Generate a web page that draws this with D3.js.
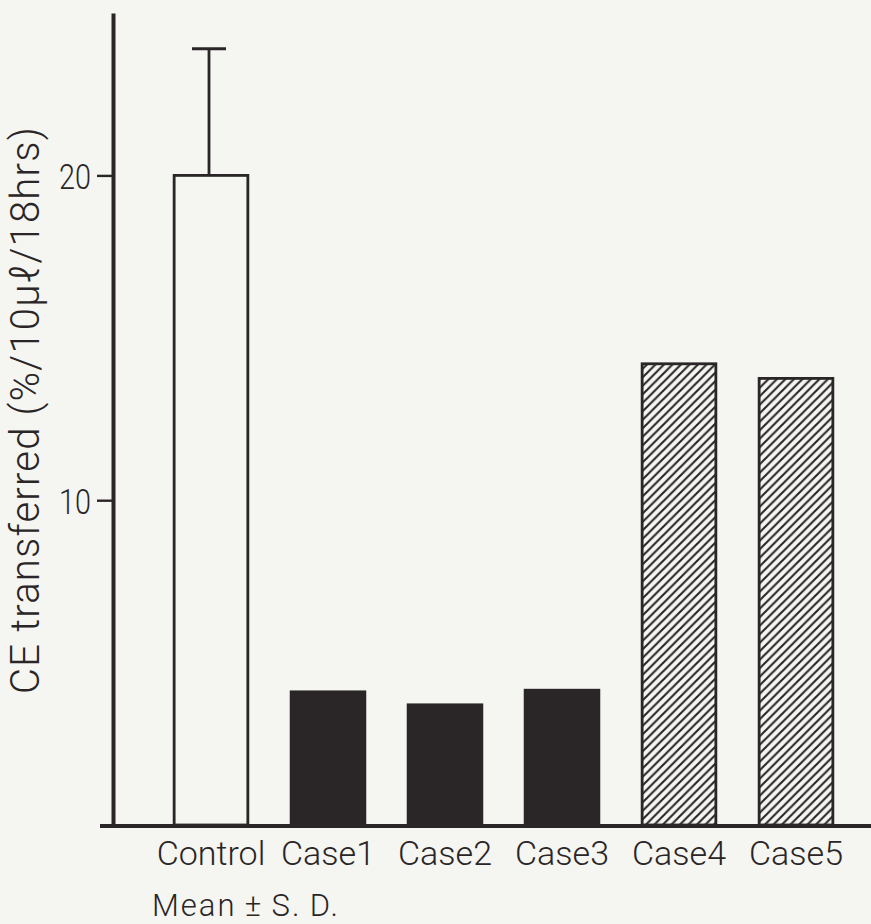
<!DOCTYPE html>
<html>
<head>
<meta charset="utf-8">
<script src="https://cdn.jsdelivr.net/npm/d3@7"></script>
<style>
  body { margin: 0; background: #f5f5f2; }
  svg { display: block; }
  text { fill: #2a2526; font-family: Roboto, 'DejaVu Sans', sans-serif; font-weight: 300; }
</style>
</head>
<body>
<div id="app"></div>
<script>
// data
const categories = ["Control", "Case1", "Case2", "Case3", "Case4", "Case5"];
const values = [20, 4.1, 3.7, 4.15, 14.2, 13.75];
const errors = [3.9, 0, 0, 0, 0, 0];
const groups = ["control", "low", "low", "low", "high", "high"];
const yTicks = [10, 20];

const W = 871, H = 924;
const ink = "#2a2526";

const svg = d3.select("#app").append("svg")
  .attr("width", W)
  .attr("height", H);

const defs = svg.append("defs");
defs.append("pattern")
  .attr("id", "hatch")
  .attr("patternUnits", "userSpaceOnUse")
  .attr("width", 8.5)
  .attr("height", 8.5)
  .append("path")
  .attr("d", "M-2,2 L2,-2 M0,8.5 L8.5,0 M6.5,10.5 L10.5,6.5")
  .attr("stroke", ink)
  .attr("stroke-width", 2.1);

const y = d3.scaleLinear().domain([0, 25]).range([825, 13]);
const x = d3.scaleBand()
  .domain(categories)
  .range([152.5, 854.5])
  .paddingInner(0.37)
  .paddingOuter(0.185);

const fillFor = g => g === "control" ? "#f5f5f2" : g === "low" ? ink : "url(#hatch)";

// bars
svg.append("g")
  .selectAll("rect")
  .data(categories)
  .join("rect")
  .attr("x", d => x(d))
  .attr("y", (d, i) => y(values[i]))
  .attr("width", x.bandwidth())
  .attr("height", (d, i) => y(0) - y(values[i]))
  .attr("fill", (d, i) => fillFor(groups[i]))
  .attr("stroke", ink)
  .attr("stroke-width", 2.8);

// error bars (upper only)
const errData = categories
  .map((c, i) => ({ c, top: values[i] + errors[i], v: values[i] }))
  .filter((d, i) => errors[i] > 0);
const err = svg.append("g")
  .selectAll("g")
  .data(errData)
  .join("g");
err.append("line")
  .attr("x1", d => x(d.c) + x.bandwidth() / 2 - 2)
  .attr("x2", d => x(d.c) + x.bandwidth() / 2 - 2)
  .attr("y1", d => y(d.v))
  .attr("y2", d => y(d.top))
  .attr("stroke", ink)
  .attr("stroke-width", 2.8);
err.append("line")
  .attr("x1", d => x(d.c) + x.bandwidth() / 2 - 19)
  .attr("x2", d => x(d.c) + x.bandwidth() / 2 + 15)
  .attr("y1", d => y(d.top))
  .attr("y2", d => y(d.top))
  .attr("stroke", ink)
  .attr("stroke-width", 2.8);

// baseline
svg.append("line")
  .attr("x1", 100)
  .attr("x2", W)
  .attr("y1", y(0) + 1)
  .attr("y2", y(0) + 1)
  .attr("stroke", ink)
  .attr("stroke-width", 3.8);

// y axis
const yAxis = svg.append("g")
  .attr("transform", "translate(113,0)")
  .call(d3.axisLeft(y).tickValues(yTicks).tickSize(16).tickSizeOuter(0).tickPadding(6));
yAxis.select(".domain").attr("stroke", ink).attr("stroke-width", 4);
yAxis.selectAll(".tick line").attr("stroke", ink).attr("stroke-width", 2.4);
yAxis.selectAll(".tick text")
  .attr("fill", ink)
  .attr("dy", "0.36em")
  .attr("transform", "translate(-22,0) scale(0.8,1) translate(22,0)")
  .style("font-family", "Roboto, sans-serif")
  .style("font-weight", 300)
  .style("font-size", "36px");

// x labels
const xAxis = svg.append("g")
  .attr("transform", `translate(0,${y(0)})`)
  .call(d3.axisBottom(x).tickSize(0).tickPadding(16));
xAxis.select(".domain").remove();
xAxis.selectAll(".tick text")
  .attr("fill", ink)
  .attr("dy", "0.71em")
  .style("font-family", "Roboto, sans-serif")
  .style("font-weight", 300)
  .style("font-size", "34px");

svg.append("text")
  .attr("x", 152)
  .attr("y", 916)
  .style("font-size", "31px")
  .style("letter-spacing", "2px")
  .text("Mean\u2009±\u2009S.\u2009D.");

// y title
svg.append("text")
  .attr("transform", "translate(39,410) rotate(-90)")
  .attr("text-anchor", "middle")
  .style("font-size", "40px")
  .style("letter-spacing", "1.2px")
  .text("CE transferred (%/10\u03bc\u2113/18hrs)");
</script>
</body>
</html>
